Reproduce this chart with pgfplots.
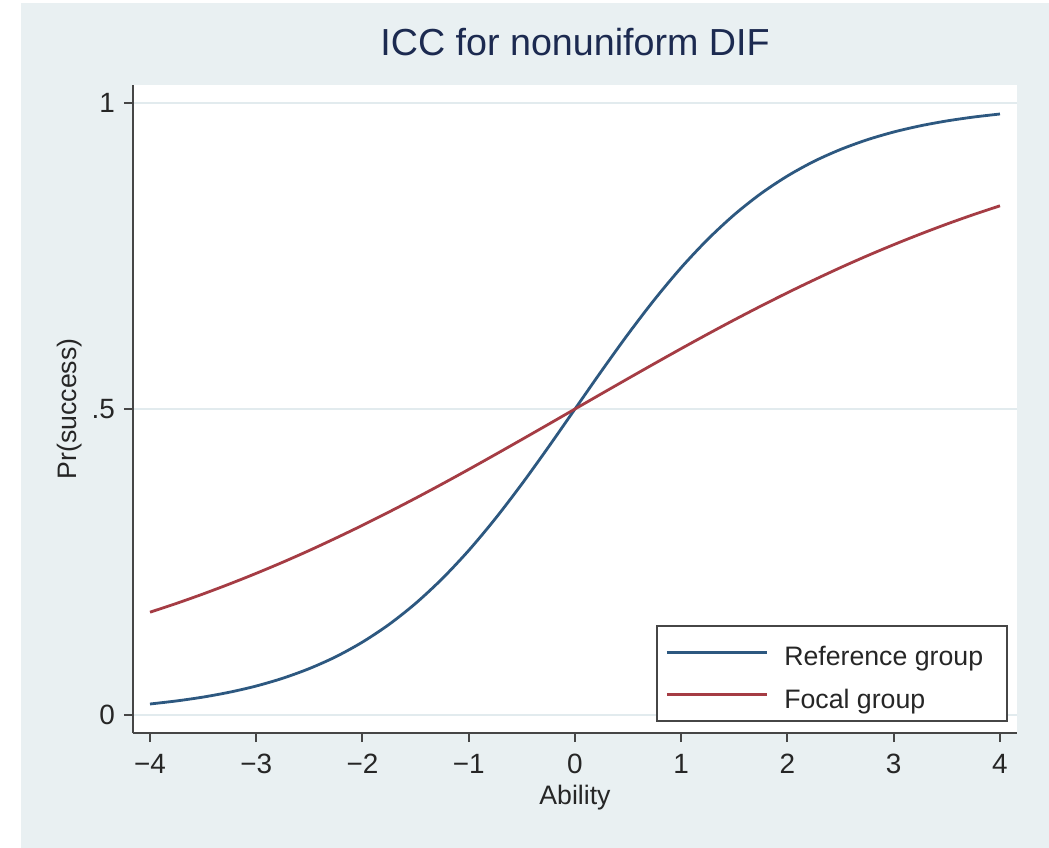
\documentclass[border=0pt]{standalone}
\usepackage{pgfplots}
\pgfplotsset{compat=1.18}
\usepackage{fontspec}
\setmainfont{Liberation Sans}
\definecolor{bgc}{RGB}{233,240,242}
\definecolor{gridc}{RGB}{226,235,238}
\definecolor{refc}{RGB}{45,88,128}
\definecolor{focc}{RGB}{165,60,68}
\definecolor{titc}{RGB}{28,42,80}
\definecolor{axc}{RGB}{70,70,70}
\pgfplotstableread{
x y
-4 0.0180
-3.75 0.0230
-3.5 0.0293
-3.25 0.0373
-3 0.0474
-2.75 0.0601
-2.5 0.0759
-2.25 0.0953
-2 0.1192
-1.75 0.1480
-1.5 0.1824
-1.25 0.2227
-1 0.2689
-0.75 0.3208
-0.5 0.3775
-0.25 0.4378
0 0.5
0.25 0.5622
0.5 0.6225
0.75 0.6792
1 0.7311
1.25 0.7773
1.5 0.8176
1.75 0.8520
2 0.8808
2.25 0.9047
2.5 0.9241
2.75 0.9399
3 0.9526
3.25 0.9627
3.5 0.9707
3.75 0.9770
4 0.9820
}\reftab
\pgfplotstableread{
x y
-4 0.1680
-3.75 0.1824
-3.5 0.1978
-3.25 0.2142
-3 0.2315
-2.75 0.2497
-2.5 0.2689
-2.25 0.2891
-2 0.3100
-1.75 0.3318
-1.5 0.3543
-1.25 0.3775
-1 0.4013
-0.75 0.4256
-0.5 0.4502
-0.25 0.4750
0 0.5
0.25 0.5250
0.5 0.5498
0.75 0.5744
1 0.5987
1.25 0.6225
1.5 0.6457
1.75 0.6682
2 0.6900
2.25 0.7109
2.5 0.7311
2.75 0.7503
3 0.7685
3.25 0.7858
3.5 0.8022
3.75 0.8176
4 0.8320
}\foctab
\begin{document}
\begin{tikzpicture}
\fill[white] (-66.5bp,-57.5bp) rectangle (458bp,366.5bp);
\fill[bgc] (-56bp,-57.5bp) rectangle (458bp,365bp);
\path[use as bounding box] (-66.5bp,-57.5bp) rectangle (458bp,366.5bp);
\begin{axis}[
  at={(0,0)}, anchor=south west,
  scale only axis, width=442bp, height=324bp,
  xmin=-4.16, xmax=4.16, ymin=-0.0294, ymax=1.0294,
  axis x line*=bottom, axis y line*=left,
  axis line style={axc, line width=1bp, -},
  axis background/.style={fill=white},
  xtick={-4,-3,-2,-1,0,1,2,3,4},
  xticklabels={−4,−3,−2,−1,0,1,2,3,4},
  ytick={0,0.5,1}, yticklabels={0,.5,1},
  tick style={axc, line width=1bp},
  tick align=outside, major tick length=4.5bp,
  ymajorgrids, grid style={gridc, line width=1bp},
  tick label style={font=\fontsize{14}{16}\selectfont, text=black!85},
  xticklabel style={yshift=-2.5bp},
  yticklabel style={xshift=-1bp},
  xlabel={Ability}, ylabel={Pr(success)},
  label style={font=\fontsize{13.4}{16}\selectfont, text=black!85},
  xlabel style={at={(0.5,0)}, anchor=center, yshift=-32.5bp},
  ylabel style={at={(0,0.5)}, anchor=center, yshift=31.5bp},
  title={ICC for nonuniform DIF},
  title style={font=\fontsize{18.9}{22}\selectfont, text=titc, at={(0.5,1)}, anchor=base, yshift=9bp},
  legend cell align=left,
  legend style={at={(0.99,0.017)}, anchor=south east, draw=axc, line width=1bp,
    fill=white, font=\fontsize{13.4}{16}\selectfont, text=black!85,
    inner xsep=4bp, inner ysep=4bp, row sep=3bp,
    nodes={inner ysep=2bp, inner xsep=8bp, text height=13.8bp, text depth=0.35bp}},
  legend image code/.code={\draw[#1, line width=1.5bp] (0bp,0bp) -- (50bp,0bp);},
]
\addplot[refc, line width=1.4bp, smooth] table {\reftab};
\addlegendentry{Reference group}
\addplot[focc, line width=1.4bp, smooth] table {\foctab};
\addlegendentry{Focal group}
\end{axis}
\end{tikzpicture}
\end{document}
